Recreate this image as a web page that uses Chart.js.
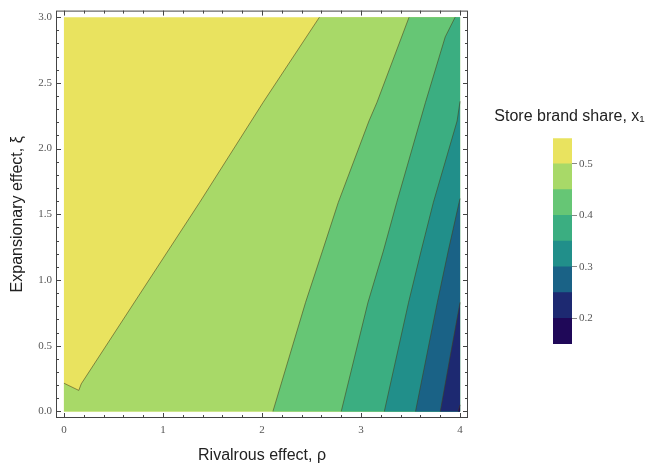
<!DOCTYPE html>
<html>
<head>
<meta charset="utf-8">
<script src="https://cdn.jsdelivr.net/npm/chart.js@4.4.0/dist/chart.umd.min.js"></script>
<style>
  body { margin: 0; background: #fff; }
  #wrap { position: relative; width: 659px; height: 465px; }
  #plot { position: absolute; left: 0; top: 0; }
  #bar { position: absolute; left: 480px; top: 100px; }
</style>
</head>
<body>
<div id="wrap">
  <canvas id="plot" width="659" height="465"></canvas>
  <canvas id="bar" width="179" height="260"></canvas>
</div>
<script>
Chart.defaults.font.family = 'Liberation Sans';

// contour levels of the store brand share x1, and the band colours
var levels = [0.15, 0.2, 0.25, 0.3, 0.35, 0.4, 0.45, 0.5, 0.55];
var levelColors = ['#1f0858', '#1d2971', '#1a6286', '#218f8a', '#3bae81', '#66c675', '#a8d968', '#e9e35f'];
var barTicks = [0.2, 0.3, 0.4, 0.5];

var xTicks = [0, 1, 2, 3, 4];
var yTicks = [0, 0.5, 1, 1.5, 2, 2.5, 3];

// contour lines (rho, xi), bottom to top
var c20 = [[3.98, 0], [4, 0.05]];
var c25 = [[3.8, 0], [3.9, 0.42], [4, 0.83]];
var c30 = [[3.55, 0], [3.77, 0.83], [3.88, 1.22], [3.99, 1.59], [4, 1.62]];
var c35 = [[3.235, 0], [3.48, 0.83], [3.606, 1.22], [3.73, 1.59], [3.97, 2.21], [4, 2.36]];
var c40 = [[2.8, 0], [3.07, 0.83], [3.225, 1.22], [3.36, 1.59], [3.65, 2.35], [3.85, 2.85], [3.95, 3]];
var c45 = [[2.11, 0], [2.44, 0.83], [2.61, 1.22], [2.77, 1.59], [3.08, 2.21], [3.16, 2.35], [3.485, 3]];
var c50 = [[0, 0.215], [0.15, 0.16], [0.175, 0.21], [0.72, 0.84], [1.37, 1.59], [2.01, 2.35], [2.58, 3]];

var contours = [c20, c25, c30, c35, c40, c45, c50];

function pts(arr) {
    return arr.map(function (p) { return {x: p[0], y: p[1]}; });
}

// region lying to the right of a contour line (lower share)
function rightOf(c) {
    var p = c.slice();
    if (p[0][1] > 0) p.unshift([0, 0]);
    if (p[p.length - 1][1] >= 3) p.push([4, 3]);
    p.push([4, 0]);
    return p;
}

var ds = [];
// top band (x1 > 0.5) covers the whole domain first
ds.push({
    data: pts([[0, 0], [0, 3], [4, 3], [4, 0]]),
    showLine: true, fill: 'shape', pointRadius: 0,
    backgroundColor: levelColors[7], borderColor: 'rgba(0,0,0,0)', borderWidth: 0,
    order: 20
});
for (var i = contours.length - 1; i >= 0; i--) {
    ds.push({
        data: pts(rightOf(contours[i])),
        showLine: true, fill: 'shape', pointRadius: 0,
        backgroundColor: levelColors[i], borderColor: 'rgba(0,0,0,0)', borderWidth: 0,
        order: 10 + i
    });
}
contours.forEach(function (c) {
    ds.push({
        data: pts(c),
        showLine: true, fill: false, pointRadius: 0,
        borderColor: 'rgba(70,60,25,0.55)', borderWidth: 1,
        order: 0
    });
});

var frameTicks = {
    id: 'frameTicks',
    afterDraw: function (chart) {
        var a = chart.chartArea, xs = chart.scales.x, ys = chart.scales.y, c = chart.ctx;
        c.save();
        c.strokeStyle = '#444';
        c.lineWidth = 1;
        c.strokeRect(a.left + 0.5, a.top + 0.5, a.right - a.left - 1, a.bottom - a.top - 1);
        c.beginPath();
        for (var i = 0; i <= 20; i++) {
            var px = Math.round(xs.getPixelForValue(i * 0.2)) + 0.5;
            var len = i % 5 === 0 ? 5 : 3;
            c.moveTo(px, a.bottom); c.lineTo(px, a.bottom - len);
            c.moveTo(px, a.top); c.lineTo(px, a.top + len);
        }
        for (var j = 0; j <= 30; j++) {
            var py = Math.round(ys.getPixelForValue(j * 0.1)) + 0.5;
            var l2 = j % 5 === 0 ? 5 : 3;
            c.moveTo(a.left, py); c.lineTo(a.left + l2, py);
            c.moveTo(a.right, py); c.lineTo(a.right - l2, py);
        }
        c.stroke();
        c.restore();
    }
};

var tickFont = {family: 'Liberation Serif', size: 11};

new Chart(document.getElementById('plot'), {
    type: 'scatter',
    data: {datasets: ds},
    plugins: [frameTicks],
    options: {
        responsive: false,
        animation: false,
        layout: {padding: {top: 9, right: 191, left: 0, bottom: 0}},
        plugins: {
            legend: {display: false},
            tooltip: {enabled: false}
        },
        scales: {
            x: {
                type: 'linear', min: -0.08, max: 4.08,
                afterBuildTicks: function (s) { s.ticks = xTicks.map(function (v) { return {value: v}; }); },
                afterFit: function (s) { s.height = 47; },
                grid: {display: false, drawTicks: false},
                border: {display: false},
                ticks: {padding: 6, color: '#555', font: tickFont, callback: function (v) { return String(v); }},
                title: {display: true, text: 'Rivalrous effect, ρ', color: '#222', font: {size: 16}, padding: {top: 0, bottom: 0}}
            },
            y: {
                type: 'linear', min: -0.05, max: 3.05,
                afterBuildTicks: function (s) { s.ticks = yTicks.map(function (v) { return {value: v}; }); },
                afterFit: function (s) { s.width = 56; },
                grid: {display: false, drawTicks: false},
                border: {display: false},
                ticks: {padding: 4, color: '#555', font: tickFont, callback: function (v) { return v.toFixed(1); }},
                title: {display: true, text: 'Expansionary effect, ξ', color: '#222', font: {size: 16}, padding: {top: 8, bottom: 0}}
            }
        }
    }
});

// colour bar legend
var bands = [];
for (var k = 0; k < levels.length - 1; k++) {
    bands.push({
        data: [[levels[k], levels[k + 1]]],
        backgroundColor: levelColors[k],
        barPercentage: 1, categoryPercentage: 1, grouped: false,
        yAxisID: 'y'
    });
}

new Chart(document.getElementById('bar'), {
    type: 'bar',
    data: {labels: [''], datasets: bands},
    options: {
        responsive: false,
        animation: false,
        layout: {padding: {bottom: 16}},
        plugins: {
            legend: {display: false},
            tooltip: {enabled: false},
            title: {
                display: true, text: 'Store brand share, x₁', color: '#222',
                font: {size: 16, weight: 'normal'}, padding: {top: 7, bottom: 12}
            }
        },
        scales: {
            x: {display: false},
            yl: {
                position: 'left', min: 0.15, max: 0.55,
                afterFit: function (s) { s.width = 73; },
                grid: {display: false, drawTicks: false},
                border: {display: false},
                ticks: {display: false}
            },
            y: {
                position: 'right', min: 0.15, max: 0.55,
                afterBuildTicks: function (s) { s.ticks = barTicks.map(function (v) { return {value: v}; }); },
                afterFit: function (s) { s.width = 87; },
                grid: {drawOnChartArea: false, tickLength: 5, color: '#888'},
                border: {display: false},
                ticks: {padding: 2, color: '#555', font: tickFont, callback: function (v) { return v.toFixed(1); }}
            }
        }
    }
});
</script>
</body>
</html>
